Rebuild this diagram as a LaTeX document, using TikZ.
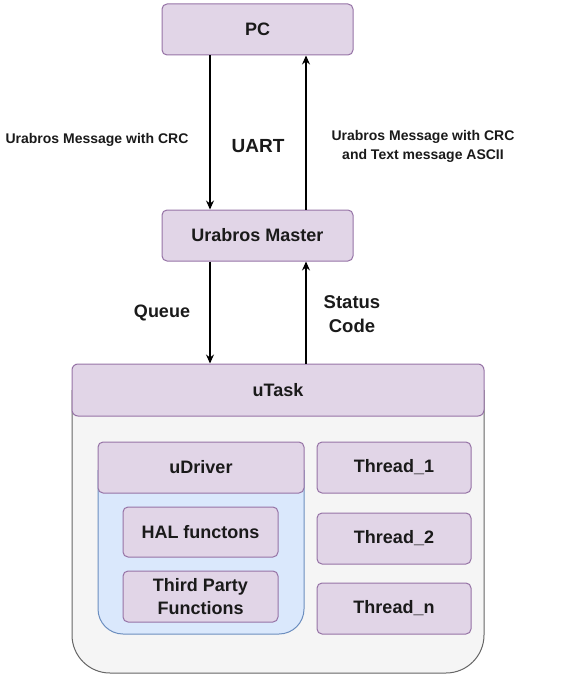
\documentclass[tikz,border=0pt]{standalone}
\usepackage{fontspec}
\setmainfont{Liberation Sans}
\usetikzlibrary{arrows.meta}
\definecolor{pfill}{HTML}{E1D5E7}
\definecolor{pstroke}{HTML}{9673A6}
\definecolor{bfill}{HTML}{DAE8FC}
\definecolor{bstroke}{HTML}{6C8EBF}
\definecolor{gfill}{HTML}{F5F5F5}
\definecolor{gstroke}{HTML}{666666}
\definecolor{txt}{HTML}{1A1A1A}
\newcommand{\bigfont}{\fontsize{18}{23}\selectfont\bfseries}
\newcommand{\smallfont}{\fontsize{14}{19}\selectfont\bfseries}
\begin{document}
\begin{tikzpicture}[x=1pt,y=-1pt,
  pbox/.style={draw=pstroke, fill=pfill, rounded corners=5pt, line width=1pt,
    font=\bigfont, text=txt, inner sep=0pt, align=center},
  lbl/.style={font=\smallfont, text=txt, align=center, inner sep=0pt},
  blbl/.style={font=\bigfont, text=txt, align=center, inner sep=0pt},
  arr/.style={-{Stealth[length=9pt,width=8pt,inset=3pt]}, line width=1.2pt, draw=black}]
\useasboundingbox (0,0) rectangle (563,682);
% boxes
\node[pbox, minimum width=191pt, minimum height=51pt] (pc) at (257.5,29.5) {PC};
\node[pbox, minimum width=191pt, minimum height=51pt] (master) at (257.5,235.5) {Urabros Master};
% uTask container
\filldraw[fill=gfill, draw=gstroke, line width=1pt] (72,390) [rounded corners=38pt] -- (72,673) -- (484,673) -- (484,390);
\node[pbox, rounded corners=6pt, minimum width=412pt, minimum height=52pt] (utask) at (278,390) {uTask};
% uDriver container
\filldraw[fill=bfill, draw=bstroke, line width=1pt] (98,470) [rounded corners=25pt] -- (98,634) -- (304,634) -- (304,470);
\node[pbox, minimum width=206pt, minimum height=51pt] (udriver) at (201,467.5) {uDriver};
\node[pbox, minimum width=155pt, minimum height=50pt] (hal) at (200.5,532) {HAL functons};
\node[pbox, minimum width=155pt, minimum height=51pt] (third) at (200.5,596.5) {Third Party\\Functions};
\node[pbox, minimum width=154pt, minimum height=51pt] (t1) at (394,467.5) {Thread\_1};
\node[pbox, minimum width=154pt, minimum height=51pt] (t2) at (394,538.5) {Thread\_2};
\node[pbox, minimum width=154pt, minimum height=51pt] (tn) at (394,608.5) {Thread\_n};
% arrows
\coordinate (xl) at (210,0);
\coordinate (xr) at (306,0);
\draw[arr] (pc.south -| xl) -- (master.north -| xl);
\draw[arr] (master.north -| xr) -- (pc.south -| xr);
\draw[arr] (master.south -| xl) -- (utask.north -| xl);
\draw[arr] (utask.north -| xr) -- (master.south -| xr);
% labels
\node[lbl] (l1) at (97,140) {Urabros Message with CRC};
\node[blbl, font=\fontsize{19}{23}\selectfont\bfseries] (uart) at (258,146) {UART};
\node[lbl] (l2) at (423,146) {Urabros Message with CRC\\and Text message ASCII};
\node[blbl] (queue) at (162,313) {Queue};
\node[blbl, font=\fontsize{18.5}{24}\selectfont\bfseries] (status) at (352,314) {Status\\Code};
\end{tikzpicture}
\end{document}
